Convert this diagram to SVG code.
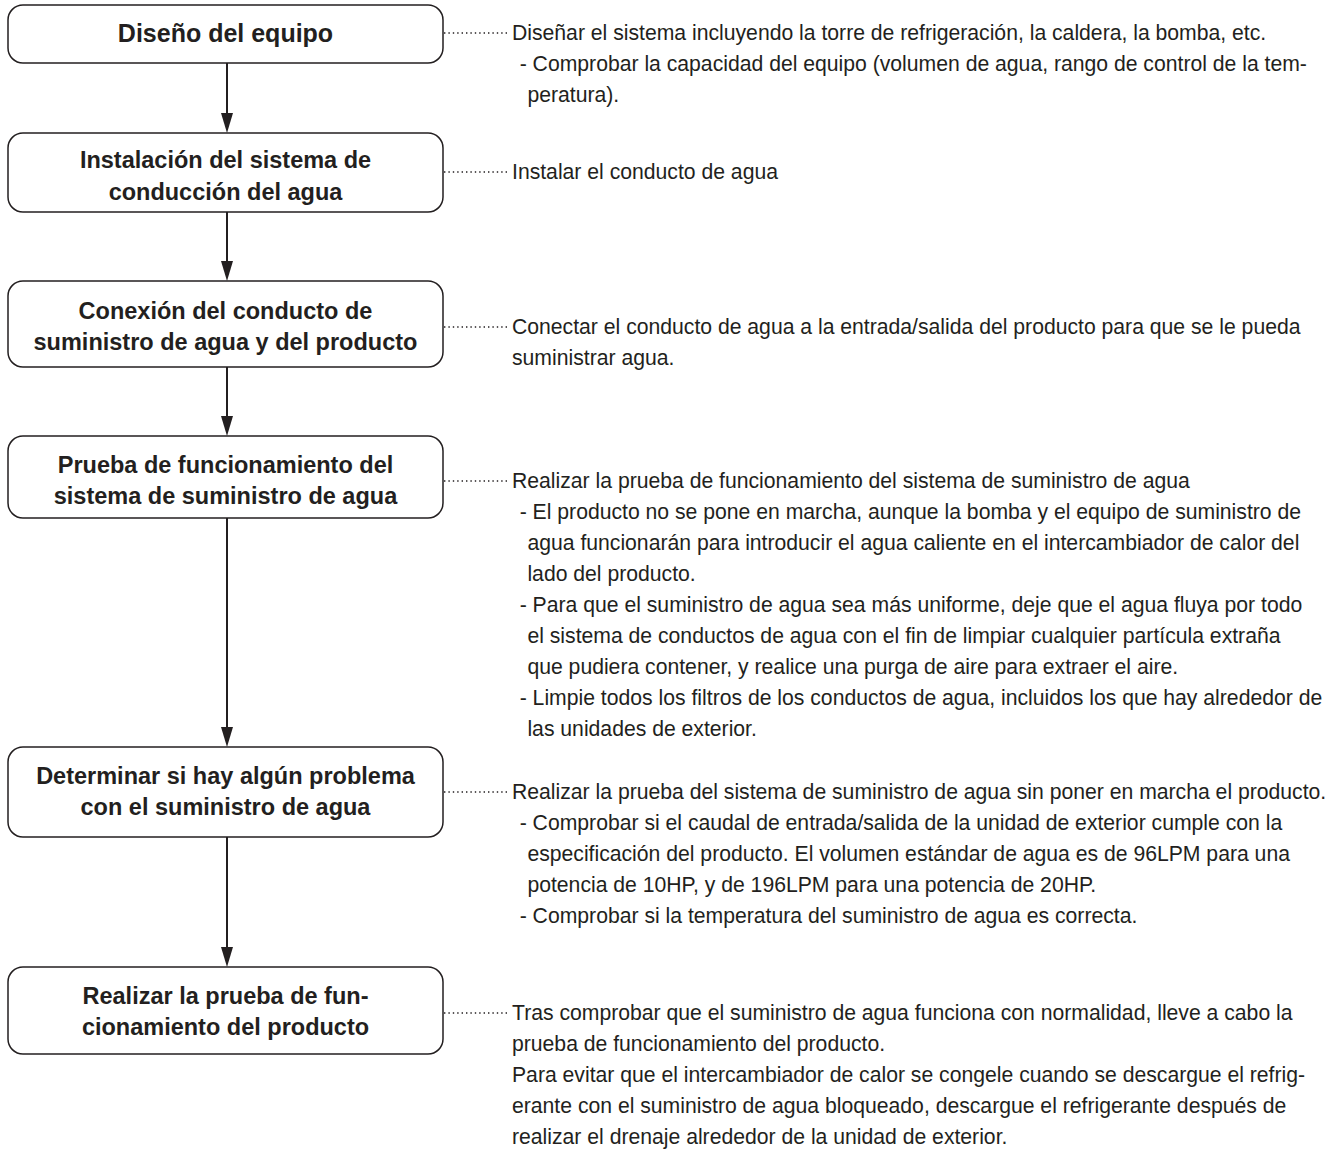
<svg xmlns="http://www.w3.org/2000/svg" width="1331" height="1151" viewBox="0 0 1331 1151">
<style>
.box{fill:#fff;stroke:#231f20;stroke-width:1.5}
.bt{font-family:"Liberation Sans",Arial,sans-serif;font-weight:bold;font-size:23.5px;fill:#231f20;text-anchor:middle}
.rt{font-family:"Liberation Sans",Arial,sans-serif;font-size:22px;fill:#231f20}
.arr{stroke:#231f20;stroke-width:2;fill:none}
.dot{stroke:#231f20;stroke-width:1.3;stroke-dasharray:1.4 3;fill:none}
.head{fill:#231f20}
</style>
<rect width="1331" height="1151" fill="#fff"/>
<g id="connectors">
<line class="arr" x1="227" y1="63" x2="227" y2="115"/>
<polygon class="head" points="221,113 233,113 227,133"/>
<line class="arr" x1="227" y1="212" x2="227" y2="263"/>
<polygon class="head" points="221,261 233,261 227,281"/>
<line class="arr" x1="227" y1="367" x2="227" y2="418"/>
<polygon class="head" points="221,416 233,416 227,436"/>
<line class="arr" x1="227" y1="518" x2="227" y2="729"/>
<polygon class="head" points="221,727 233,727 227,747"/>
<line class="arr" x1="227" y1="837" x2="227" y2="949"/>
<polygon class="head" points="221,947 233,947 227,967"/>
<line class="dot" x1="444" y1="33" x2="510" y2="33"/>
<line class="dot" x1="444" y1="172" x2="510" y2="172"/>
<line class="dot" x1="444" y1="327" x2="510" y2="327"/>
<line class="dot" x1="444" y1="481" x2="510" y2="481"/>
<line class="dot" x1="444" y1="792" x2="510" y2="792"/>
<line class="dot" x1="444" y1="1013" x2="510" y2="1013"/>
</g>
<g id="n1">
<rect class="box" x="8" y="5" width="435" height="58" rx="15"/>
<text class="bt" x="225.5" y="42" style="font-size:25px">Diseño del equipo</text>
</g>
<g id="n2">
<rect class="box" x="8" y="133" width="435" height="79" rx="15"/>
<text class="bt" x="225.5" y="168">Instalación del sistema de</text>
<text class="bt" x="225.5" y="200">conducción del agua</text>
</g>
<g id="n3">
<rect class="box" x="8" y="281" width="435" height="86" rx="15"/>
<text class="bt" x="225.5" y="319">Conexión del conducto de</text>
<text class="bt" x="225.5" y="350">suministro de agua y del producto</text>
</g>
<g id="n4">
<rect class="box" x="8" y="436" width="435" height="82" rx="15"/>
<text class="bt" x="225.5" y="473">Prueba de funcionamiento del</text>
<text class="bt" x="225.5" y="504">sistema de suministro de agua</text>
</g>
<g id="n5">
<rect class="box" x="8" y="747" width="435" height="90" rx="15"/>
<text class="bt" x="225.5" y="784">Determinar si hay algún problema</text>
<text class="bt" x="225.5" y="815">con el suministro de agua</text>
</g>
<g id="n6">
<rect class="box" x="8" y="967" width="435" height="87" rx="15"/>
<text class="bt" x="225.5" y="1004">Realizar la prueba de fun-</text>
<text class="bt" x="225.5" y="1035">cionamiento del producto</text>
</g>
<g id="desc1" transform="matrix(0.963 0 0 1 512 0)">
<text class="rt" x="0" y="40">Diseñar el sistema incluyendo la torre de refrigeración, la caldera, la bomba, etc.</text>
<text class="rt" x="8" y="71">- Comprobar la capacidad del equipo (volumen de agua, rango de control de la tem-</text>
<text class="rt" x="16" y="102">peratura).</text>
</g>
<g id="desc2" transform="matrix(0.963 0 0 1 512 0)">
<text class="rt" x="0" y="179">Instalar el conducto de agua</text>
</g>
<g id="desc3" transform="matrix(0.963 0 0 1 512 0)">
<text class="rt" x="0" y="334">Conectar el conducto de agua a la entrada/salida del producto para que se le pueda</text>
<text class="rt" x="0" y="365">suministrar agua.</text>
</g>
<g id="desc4" transform="matrix(0.963 0 0 1 512 0)">
<text class="rt" x="0" y="488">Realizar la prueba de funcionamiento del sistema de suministro de agua</text>
<text class="rt" x="8" y="519">- El producto no se pone en marcha, aunque la bomba y el equipo de suministro de</text>
<text class="rt" x="16" y="550">agua funcionarán para introducir el agua caliente en el intercambiador de calor del</text>
<text class="rt" x="16" y="581">lado del producto.</text>
<text class="rt" x="8" y="612">- Para que el suministro de agua sea más uniforme, deje que el agua fluya por todo</text>
<text class="rt" x="16" y="643">el sistema de conductos de agua con el fin de limpiar cualquier partícula extraña</text>
<text class="rt" x="16" y="674">que pudiera contener, y realice una purga de aire para extraer el aire.</text>
<text class="rt" x="8" y="705">- Limpie todos los filtros de los conductos de agua, incluidos los que hay alrededor de</text>
<text class="rt" x="16" y="736">las unidades de exterior.</text>
</g>
<g id="desc5" transform="matrix(0.963 0 0 1 512 0)">
<text class="rt" x="0" y="799">Realizar la prueba del sistema de suministro de agua sin poner en marcha el producto.</text>
<text class="rt" x="8" y="830">- Comprobar si el caudal de entrada/salida de la unidad de exterior cumple con la</text>
<text class="rt" x="16" y="861">especificación del producto. El volumen estándar de agua es de 96LPM para una</text>
<text class="rt" x="16" y="892">potencia de 10HP, y de 196LPM para una potencia de 20HP.</text>
<text class="rt" x="8" y="923">- Comprobar si la temperatura del suministro de agua es correcta.</text>
</g>
<g id="desc6" transform="matrix(0.963 0 0 1 512 0)">
<text class="rt" x="0" y="1020">Tras comprobar que el suministro de agua funciona con normalidad, lleve a cabo la</text>
<text class="rt" x="0" y="1051">prueba de funcionamiento del producto.</text>
<text class="rt" x="0" y="1082">Para evitar que el intercambiador de calor se congele cuando se descargue el refrig-</text>
<text class="rt" x="0" y="1113">erante con el suministro de agua bloqueado, descargue el refrigerante después de</text>
<text class="rt" x="0" y="1144">realizar el drenaje alrededor de la unidad de exterior.</text>
</g>
</svg>
